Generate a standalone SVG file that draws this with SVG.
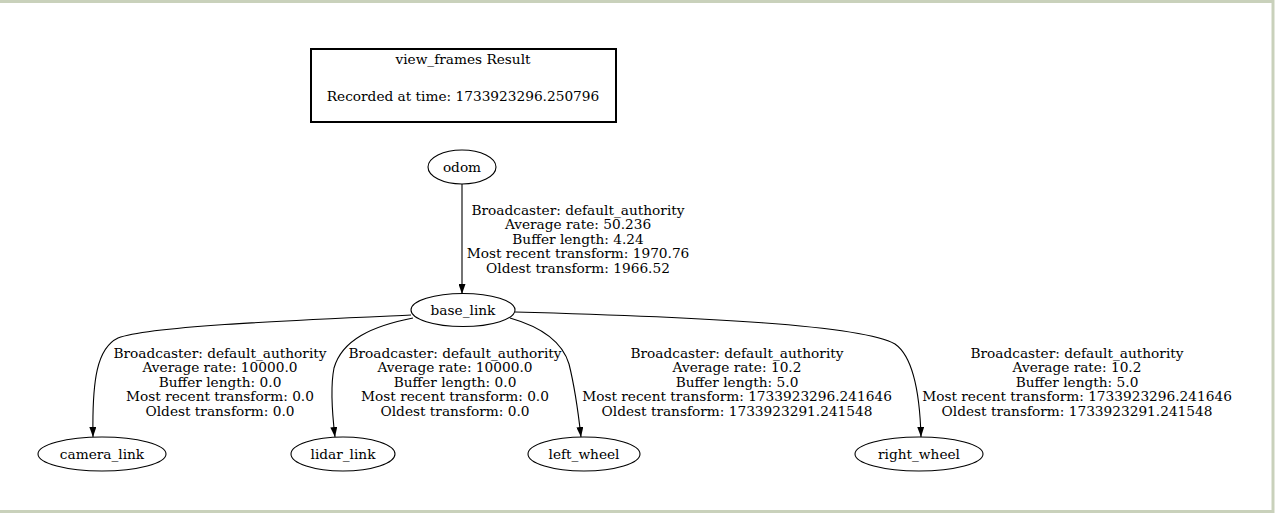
<svg xmlns="http://www.w3.org/2000/svg" width="1280" height="514" viewBox="0 0 1280 514">
<style>
text{font-family:"DejaVu Serif","Liberation Serif",serif;font-size:13.7px;fill:#000;text-anchor:middle}
.n{fill:none;stroke:#000;stroke-width:1.1}
.e{fill:none;stroke:#000;stroke-width:1.1}
</style>
<defs>
<marker id="ah" viewBox="0 0 10 7" refX="10" refY="3.5" markerWidth="10" markerHeight="7" markerUnits="userSpaceOnUse" orient="auto">
<path d="M0,0 L10,3.5 L0,7 Z" fill="#000"/>
</marker>
</defs>
<rect x="0" y="0" width="1280" height="514" fill="#fff"/>
<path d="M0,1.5 H1273 V511.5 H0" fill="none" stroke="#c9d1bb" stroke-width="3"/>
<g id="title">
<rect x="311" y="49" width="305" height="73" fill="none" stroke="#000" stroke-width="2"/>
<text x="463" y="63.5">view_frames Result</text>
<text x="463" y="100.5">Recorded at time: 1733923296.250796</text>
</g>
<g id="edges">
<path class="e" d="M462,184 V294" marker-end="url(#ah)"/>
<path class="e" d="M411,315 C300,320 150,326 118,338 C97,348 92,380 93,437" marker-end="url(#ah)"/>
<path class="e" d="M413,318 C372,326 342,340 334,368 C330,388 332,412 335,437" marker-end="url(#ah)"/>
<path class="e" d="M510,318 C545,328 563,344 569,364 C575,388 578,410 581,437" marker-end="url(#ah)"/>
<path class="e" d="M515,312 C700,317 862,325 895,344 C915,358 920,400 921,437" marker-end="url(#ah)"/>
<g id="l1">
<text x="578" y="214.5">Broadcaster: default_authority</text>
<text x="578" y="229">Average rate: 50.236</text>
<text x="578" y="243.5">Buffer length: 4.24</text>
<text x="578" y="258">Most recent transform: 1970.76</text>
<text x="578" y="272.5">Oldest transform: 1966.52</text>
</g>
<g id="l2">
<text x="220" y="357.5">Broadcaster: default_authority</text>
<text x="220" y="372">Average rate: 10000.0</text>
<text x="220" y="386.5">Buffer length: 0.0</text>
<text x="220" y="401">Most recent transform: 0.0</text>
<text x="220" y="415.5">Oldest transform: 0.0</text>
</g>
<g id="l3">
<text x="455" y="357.5">Broadcaster: default_authority</text>
<text x="455" y="372">Average rate: 10000.0</text>
<text x="455" y="386.5">Buffer length: 0.0</text>
<text x="455" y="401">Most recent transform: 0.0</text>
<text x="455" y="415.5">Oldest transform: 0.0</text>
</g>
<g id="l4">
<text x="737" y="357.5">Broadcaster: default_authority</text>
<text x="737" y="372">Average rate: 10.2</text>
<text x="737" y="386.5">Buffer length: 5.0</text>
<text x="737" y="401">Most recent transform: 1733923296.241646</text>
<text x="737" y="415.5">Oldest transform: 1733923291.241548</text>
</g>
<g id="l5">
<text x="1077" y="357.5">Broadcaster: default_authority</text>
<text x="1077" y="372">Average rate: 10.2</text>
<text x="1077" y="386.5">Buffer length: 5.0</text>
<text x="1077" y="401">Most recent transform: 1733923296.241646</text>
<text x="1077" y="415.5">Oldest transform: 1733923291.241548</text>
</g>
</g>
<g id="odom"><ellipse class="n" cx="462" cy="167" rx="34" ry="17"/><text x="462" y="172">odom</text></g>
<g id="base_link"><ellipse class="n" cx="463" cy="310" rx="52" ry="16.5"/><text x="463" y="315">base_link</text></g>
<g id="camera_link"><ellipse class="n" cx="102" cy="454" rx="64" ry="17"/><text x="102" y="459">camera_link</text></g>
<g id="lidar_link"><ellipse class="n" cx="343" cy="454" rx="52" ry="17"/><text x="343" y="459">lidar_link</text></g>
<g id="left_wheel"><ellipse class="n" cx="584" cy="454" rx="56" ry="17"/><text x="584" y="459">left_wheel</text></g>
<g id="right_wheel"><ellipse class="n" cx="919" cy="454" rx="64" ry="17"/><text x="919" y="459">right_wheel</text></g>
</svg>
